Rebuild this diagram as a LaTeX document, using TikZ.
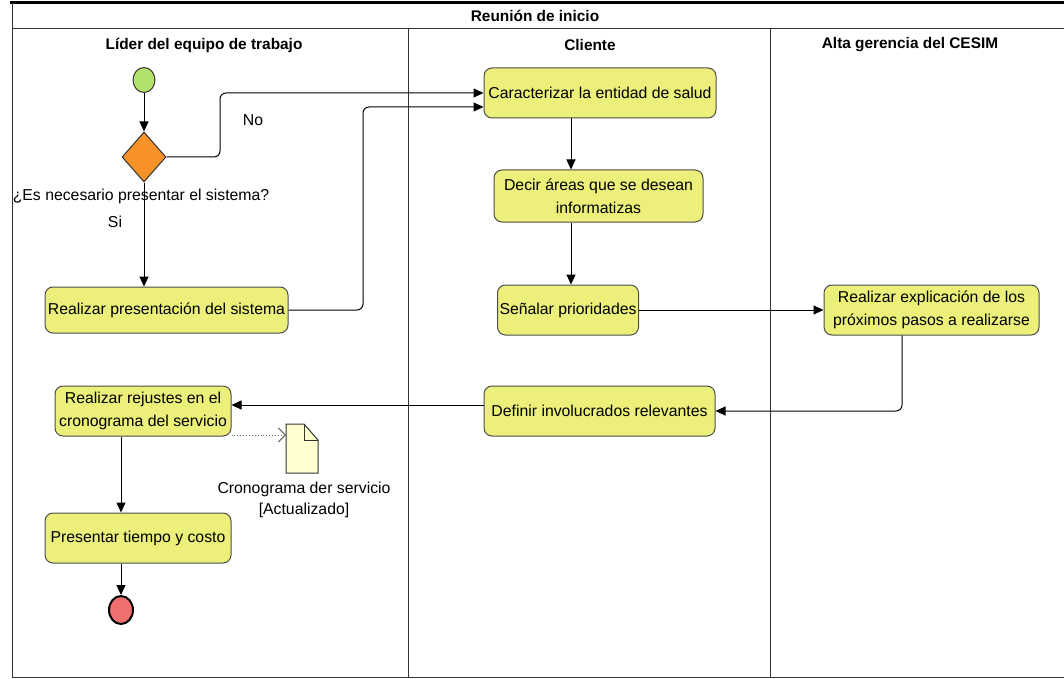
\documentclass[tikz,border=0pt]{standalone}
\usepackage{fontspec}
\setmainfont{Liberation Sans}
\usetikzlibrary{shapes.geometric,arrows.meta,calc}
\definecolor{actfill}{RGB}{236,240,122}
\definecolor{startfill}{RGB}{178,226,108}
\definecolor{decfill}{RGB}{246,146,40}
\definecolor{endfill}{RGB}{240,112,112}
\definecolor{docfill}{RGB}{255,255,208}
\begin{document}
\begin{tikzpicture}[x=1pt,y=-1pt,
  action/.style={draw=black!70, fill=actfill, rounded corners=8pt, align=center,
    font=\fontsize{15.8}{23}\selectfont, inner sep=2pt, line width=1pt},
  lanehead/.style={font=\bfseries\fontsize{15.4}{17}\selectfont},
  flow/.style={draw=black, line width=1pt, -{Triangle[length=10pt,width=9pt]}, rounded corners=6pt},
  objflow/.style={draw=black!60, line width=0.9pt, dotted, -{Straight Barb[length=7pt,width=14pt]}},
  plain/.style={font=\fontsize{15.8}{23}\selectfont, align=center},
  lane/.style={draw=black!80, line width=1pt}]
\useasboundingbox (0,0) rectangle (1064,679);

% swimlane frame
\draw[line width=3pt] (10,3) -- (1064,3);
\draw[lane] (12,3) -- (12,677) -- (1064,677);
\draw[lane] (12,28.5) -- (1064,28.5);
\draw[lane] (408,28.5) -- (408,677);
\draw[lane] (770,28.5) -- (770,677);
\node[lanehead] (title) at (535,16) {Reunión de inicio};
\node[lanehead] (h1) at (204,45) {Líder del equipo de trabajo};
\node[lanehead] (h2) at (590,45) {Cliente};
\node[lanehead] (h3) at (910,45) {Alta gerencia del CESIM};

% nodes
\node[ellipse, draw=black!80, fill=startfill, minimum width=22pt, minimum height=25pt, inner sep=0pt, line width=1pt] (start) at (144,80) {};
\node[diamond, draw=black!80, fill=decfill, minimum width=44pt, minimum height=50pt, inner sep=0pt, line width=1pt, aspect=0.88] (dec) at (144,157) {};
\node[plain, anchor=center] (declbl) at (141,196) {¿Es necesario presentar el sistema?};
\node[plain] (si) at (115,222) {Si};
\node[plain] (no) at (253,120) {No};

\node[action, minimum width=243pt, minimum height=46pt] (a1) at (166.5,310) {Realizar presentación del sistema};
\node[action, minimum width=232pt, minimum height=50pt] (c1) at (600,93) {Caracterizar la entidad de salud};
\node[action, minimum width=209pt, minimum height=52pt] (c2) at (598.5,196) {Decir áreas que se desean\\informatizas};
\node[action, minimum width=132pt, minimum height=50pt] (c3) at (568,310) {Señalar prioridades};
\node[action, minimum width=215pt, minimum height=50pt] (g1) at (931.5,310) {Realizar explicación de los\\próximos pasos a realizarse};
\node[action, minimum width=231pt, minimum height=50pt] (c4) at (599.5,411) {Definir involucrados relevantes};
\node[action, minimum width=176pt, minimum height=50pt] (l1) at (143,411) {Realizar rejustes en el\\cronograma del servicio};
\node[action, minimum width=186pt, minimum height=50pt] (l2) at (138,538) {Presentar tiempo y costo};
\node[ellipse, draw=black, fill=endfill, minimum width=24pt, minimum height=28pt, inner sep=0pt, line width=2pt] (end) at (121,610) {};

% object node (document with folded corner)
\coordinate (doc) at (286,424);
\draw[draw=black!80, fill=docfill, line width=1pt]
  (286,424) -- (304,424) -- (318,440) -- (318,473) -- (286,473) -- cycle;
\draw[draw=black!80, line width=1pt] (304,424) -- (304,440) -- (318,440);
\node[plain] (doclbl) at (304,500) {Cronograma der servicio\\[-2pt][Actualizado]};

% control flow
\draw[flow] (start) -- (dec);
\draw[flow] (dec.east) -| (220,93) -- (c1.west |- 0,93);
\draw[flow] (dec.south) -- (a1.north -| dec.south);
\draw[flow] (a1.east) -| (363,107) -- (c1.west |- 0,107);
\draw[flow] (c1.south -| 571,0) -- (c2.north -| 571,0);
\draw[flow] (c2.south -| 571,0) -- (c3.north -| 571,0);
\draw[flow] (c3.east) -- (g1.west);
\draw[flow] (g1.south -| 902,0) |- (c4.east);
\draw[flow] (c4.west |- 0,405) -- (l1.east |- 0,405);
\draw[flow] (l1.south -| 121,0) -- (l2.north -| 121,0);
\draw[flow] (l2.south -| 121,0) -- (end.north);
\draw[objflow] (l1.east |- 0,435) -- (doc |- 0,435);
\end{tikzpicture}
\end{document}
